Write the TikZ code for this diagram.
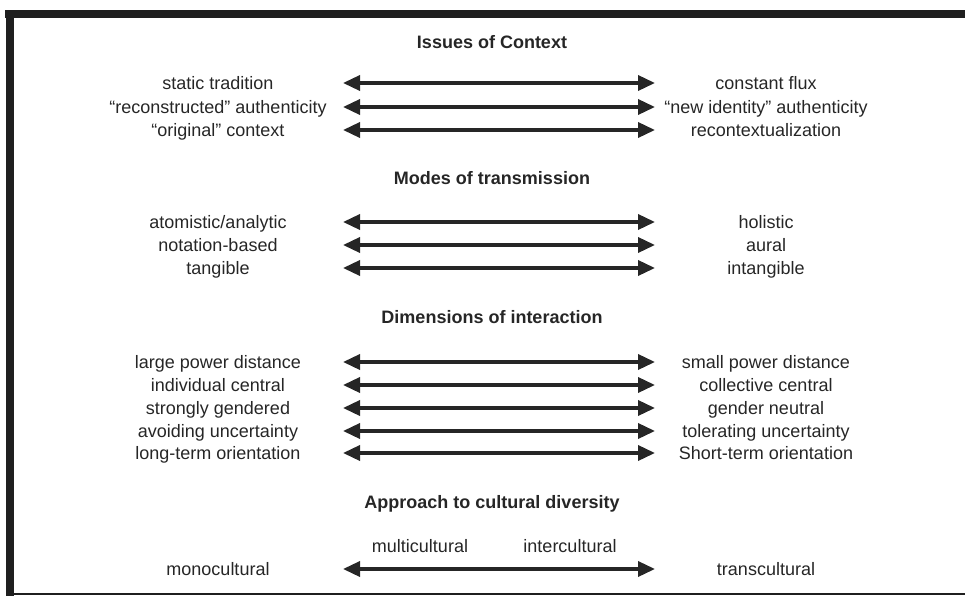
\documentclass[tikz,border=0pt]{standalone}
\usepackage{fontspec}
\setmainfont{Liberation Sans}
\usetikzlibrary{arrows.meta}

\begin{document}
\begin{tikzpicture}[x=1pt,y=-1pt]

\tikzset{pole/.style = {font=\fontsize{18}{21}\selectfont, text=black!85, inner sep=0pt, anchor=base}}
\tikzset{heading/.style = {pole, font=\fontsize{18}{21}\selectfont\bfseries}}
\tikzset{edge/.style = {{Triangle[length=17pt,width=15pt]}-{Triangle[length=17pt,width=15pt]}, line width=3.5pt, draw=black!85}}

\useasboundingbox (0,0) rectangle (965,596);

% frame: heavy top and left, thin bottom
\fill[black!88] (5,10) rectangle (965,18);
\fill[black!88] (6,10) rectangle (14,596);
\draw[black!88, line width=2pt] (14,594) -- (965,594);

\foreach \y/\txt/\name in {42/Issues of Context/ctx, 178/Modes of transmission/mod, 317/Dimensions of interaction/dim, 502/Approach to cultural diversity/app}
\node[heading] (\name) at (492,\y+6.5) {\txt};

\foreach \y/\l/\r/\name in {83/static tradition/constant flux/c1,
  107/“reconstructed” authenticity/“new identity” authenticity/c2,
  130/“original” context/recontextualization/c3,
  222/{atomistic/analytic}/holistic/m1,
  245/notation-based/aural/m2,
  268/tangible/intangible/m3,
  362/large power distance/small power distance/d1,
  385/individual central/collective central/d2,
  408/strongly gendered/gender neutral/d3,
  431/avoiding uncertainty/tolerating uncertainty/d4,
  453/long-term orientation/Short-term orientation/d5,
  569/monocultural/transcultural/a1}
{
\node[pole] (\name-l) at (218,\y+6.5) {\l};
\node[pole] (\name-r) at (766,\y+6.5) {\r};
\coordinate (\name-s) at (343,\y);
\coordinate (\name-t) at (655,\y);
\draw[edge] (\name-s) -- (\name-t);
}

\node[pole] (multi) at (420,546+6.5) {multicultural};
\node[pole] (inter) at (570,546+6.5) {intercultural};

\end{tikzpicture}
\end{document}
